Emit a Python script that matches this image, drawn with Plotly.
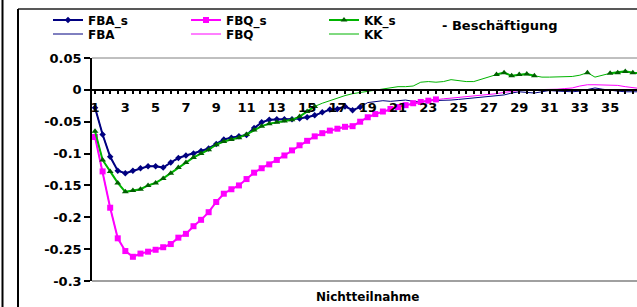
import plotly.graph_objects as go

# x positions (half-month steps)
periods = [1, 1.5, 2, 2.5, 3, 3.5, 4, 4.5, 5, 5.5, 6, 6.5, 7, 7.5, 8, 8.5, 9, 9.5,
           10, 10.5, 11, 11.5, 12, 12.5, 13, 13.5, 14, 14.5, 15, 15.5, 16, 16.5,
           17, 17.5, 18, 18.5, 19, 19.5, 20, 20.5, 21, 21.5, 22, 22.5, 23, 23.5,
           24, 24.5, 25, 25.5, 26, 26.5, 27, 27.5, 28, 28.5, 29, 29.5, 30, 30.5,
           31, 31.5, 32, 32.5, 33, 33.5, 34, 34.5, 35, 35.5, 36, 36.5, 37]

fba = [-0.028, -0.070, -0.105, -0.127, -0.131, -0.127, -0.123, -0.120, -0.120, -0.122,
       -0.114, -0.107, -0.103, -0.100, -0.096, -0.092, -0.085, -0.078, -0.075, -0.073,
       -0.071, -0.060, -0.051, -0.047, -0.046, -0.046, -0.046, -0.045, -0.043, -0.040,
       -0.035, -0.031, -0.030, -0.026, -0.032, -0.027, -0.020, -0.019, -0.017, -0.018,
       -0.017, -0.016, -0.018, -0.019, -0.017, -0.017, -0.016, -0.016, -0.015, -0.014,
       -0.012, -0.011, -0.010, -0.010, -0.008, -0.005, -0.003, -0.004, -0.005, -0.003,
       -0.001, -0.002, -0.003, -0.003, -0.002, 0.001, 0.003, 0.001, -0.001, -0.002,
       -0.003, -0.003, -0.003]

fbq = [-0.074, -0.128, -0.185, -0.233, -0.253, -0.262, -0.257, -0.254, -0.251, -0.247,
       -0.242, -0.232, -0.226, -0.214, -0.204, -0.192, -0.176, -0.163, -0.156, -0.150,
       -0.140, -0.130, -0.123, -0.117, -0.110, -0.103, -0.095, -0.087, -0.080, -0.073,
       -0.068, -0.064, -0.061, -0.058, -0.057, -0.050, -0.043, -0.038, -0.034, -0.030,
       -0.027, -0.024, -0.021, -0.019, -0.017, -0.015, -0.014, -0.013, -0.012, -0.011,
       -0.010, -0.009, -0.008, -0.006, -0.004, -0.002, -0.001, 0.000, 0.000, 0.000,
       0.001, 0.001, 0.002, 0.003, 0.006, 0.008, 0.008, 0.008, 0.008, 0.007,
       0.005, 0.003, 0.002]

kk = [-0.065, -0.110, -0.128, -0.146, -0.160, -0.158, -0.156, -0.150, -0.146, -0.139,
      -0.131, -0.122, -0.114, -0.106, -0.100, -0.094, -0.086, -0.081, -0.078, -0.075,
      -0.070, -0.063, -0.057, -0.053, -0.051, -0.049, -0.047, -0.042, -0.034, -0.026,
      -0.021, -0.017, -0.012, -0.009, -0.006, -0.004, -0.002, 0.000, 0.002, 0.004,
      0.005, 0.005, 0.006, 0.012, 0.013, 0.012, 0.013, 0.016, 0.014, 0.013,
      0.013, 0.017, 0.021, 0.024, 0.027, 0.022, 0.024, 0.025, 0.022, 0.020,
      0.020, 0.020, 0.020, 0.021, 0.023, 0.027, 0.020, 0.023, 0.026, 0.027,
      0.029, 0.027, 0.026]

# significance flags (1 = significant, shown in the *_s series)
fba_sig = [1] * 36 + [0] * 37
fbq_sig = [1] * 46 + [0] * 27
kk_sig = ([1] * 30 + [0] * 23 + [1] * 6 + [0] * 5 + [0, 1] + [0, 0, 1, 1, 1, 1, 1])

y_ticks = [0.05, 0, -0.05, -0.1, -0.15, -0.2, -0.25, -0.3]
y_labels = ["0.05", "0", "-0.05", "-0.1", "-0.15", "-0.2", "-0.25", "-0.3"]
x_ticks = [1, 3, 5, 7, 9, 11, 13, 15, 17, 19, 21, 23, 25, 27, 29, 31, 33, 35, 37]


def masked(vals, flags):
    return [v if f else None for v, f in zip(vals, flags)]


NAVY = "#000080"
MAG = "#FF00FF"
GREEN = "#00B400"
DKGREEN = "#006000"
FONT = "DejaVu Sans"

fig = go.Figure()

fig.add_trace(go.Scatter(x=periods, y=fba, name="FBA", mode="lines",
                         line=dict(color=NAVY, width=1), legend="legend2"))
fig.add_trace(go.Scatter(x=periods, y=fbq, name="FBQ", mode="lines",
                         line=dict(color=MAG, width=1), legend="legend2"))
fig.add_trace(go.Scatter(x=periods, y=kk, name="KK", mode="lines",
                         line=dict(color=GREEN, width=1), legend="legend2"))

fig.add_trace(go.Scatter(x=periods, y=masked(fba, fba_sig), name="FBA_s",
                         mode="lines+markers", connectgaps=False,
                         line=dict(color=NAVY, width=2),
                         marker=dict(symbol="diamond", size=5, color=NAVY),
                         legend="legend"))
fig.add_trace(go.Scatter(x=periods, y=masked(fbq, fbq_sig), name="FBQ_s",
                         mode="lines+markers", connectgaps=False,
                         line=dict(color=MAG, width=2),
                         marker=dict(symbol="square", size=6, color=MAG),
                         legend="legend"))
fig.add_trace(go.Scatter(x=periods, y=masked(kk, kk_sig), name="KK_s",
                         mode="lines+markers", connectgaps=False,
                         line=dict(color=GREEN, width=2),
                         marker=dict(symbol="triangle-up", size=6, color=DKGREEN),
                         legend="legend"))

L, T, W, H = 92, 58, 545, 223


def px(xp):
    return (xp - L) / W


def py(yp):
    return (T + H - yp) / H


legend_font = dict(family=FONT, size=12, color="black", weight="bold")
fig.update_layout(
    width=637, height=307,
    margin=dict(l=L, r=637 - L - W, t=T, b=307 - T - H),
    paper_bgcolor="white", plot_bgcolor="white",
    font=dict(family=FONT, color="black"),
    showlegend=True,
    legend=dict(orientation="h", x=px(48), y=py(20), xanchor="left", yanchor="middle",
                font=legend_font, entrywidth=93, entrywidthmode="pixels",
                traceorder="normal", bgcolor="rgba(0,0,0,0)"),
    legend2=dict(orientation="h", x=px(48), y=py(34), xanchor="left", yanchor="middle",
                 font=legend_font, entrywidth=93, entrywidthmode="pixels",
                 traceorder="normal", bgcolor="rgba(0,0,0,0)"),
    xaxis=dict(range=[0.8, 0.8 + W / 15.15], tickmode="array", tickvals=x_ticks,
               ticktext=[str(v) for v in x_ticks],
               anchor="free", position=0.3 / 0.35,
               showline=True, linecolor="black", linewidth=1.5,
               ticks="outside", ticklen=3, tickcolor="black", tickwidth=1.5,
               minor=dict(dtick=0.5, tick0=1, ticks="outside", ticklen=3,
                          tickcolor="black", tickwidth=1.5, showgrid=False),
               showgrid=False, zeroline=False, ticklabelstandoff=3,
               tickfont=dict(family=FONT, size=13, color="black", weight="bold")),
    yaxis=dict(range=[-0.3, 0.05], tickmode="array", tickvals=y_ticks, ticktext=y_labels,
               showline=True, linecolor="black", linewidth=1.5,
               ticks="outside", ticklen=6, tickcolor="black", tickwidth=1.5,
               showgrid=False, zeroline=False,
               tickfont=dict(family=FONT, size=13, color="black", weight="bold")),
)

shapes = [
    # plot area border lines (gray)
    dict(type="line", xref="paper", yref="paper", x0=0, x1=1.02, y0=1, y1=1,
         line=dict(color="#808080", width=1)),
    dict(type="line", xref="paper", yref="paper", x0=0, x1=1.02, y0=0, y1=0,
         line=dict(color="#808080", width=1.5)),
    # outer chart frame
    dict(type="line", xref="paper", yref="paper", x0=px(18), x1=1.05, y0=py(9), y1=py(9),
         line=dict(color="#202020", width=1.5)),
    dict(type="line", xref="paper", yref="paper", x0=px(18), x1=px(18), y0=py(9), y1=py(320),
         line=dict(color="black", width=2)),
    dict(type="line", xref="paper", yref="paper", x0=px(2.5), x1=px(2.5), y0=py(-10), y1=py(320),
         line=dict(color="black", width=2)),
]
fig.update_layout(shapes=shapes)

fig.add_annotation(text="- Beschäftigung", xref="paper", yref="paper",
                   x=px(440), y=py(25), xanchor="left", yanchor="middle", showarrow=False,
                   font=dict(family=FONT, size=13, color="black", weight="bold"))
fig.add_annotation(text="Nichtteilnahme", xref="paper", yref="paper",
                   x=px(367), y=py(297), xanchor="center", yanchor="middle", showarrow=False,
                   font=dict(family=FONT, size=12, color="black", weight="bold"))

fig.write_html("out.html", config={"displayModeBar": False},
               post_script="document.body.style.margin='0';")
